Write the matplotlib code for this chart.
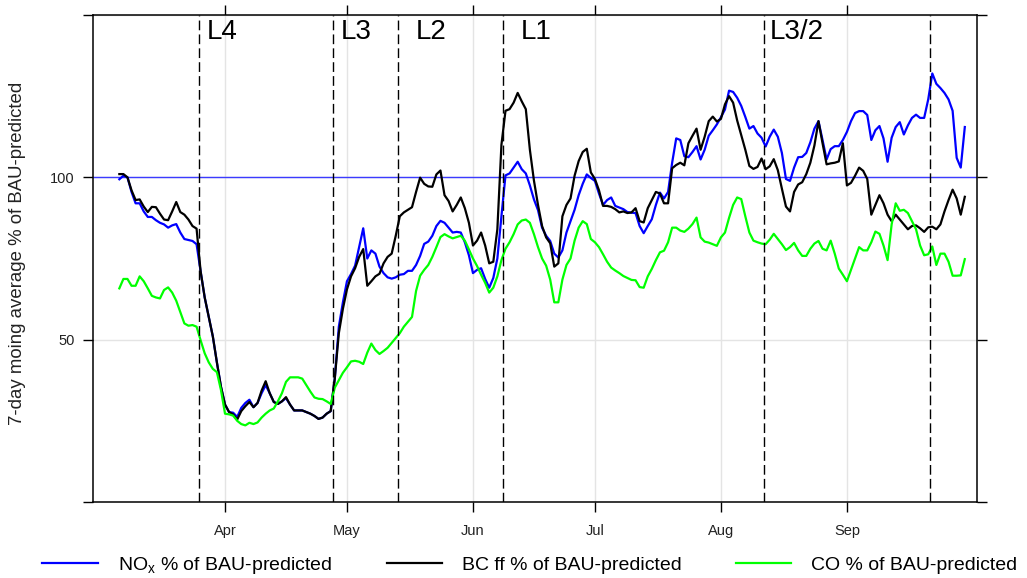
import matplotlib
matplotlib.use('Agg')
import matplotlib.pyplot as plt
import matplotlib.dates as mdates
import pandas as pd

plt.rcParams['font.family'] = ['Liberation Sans', 'DejaVu Sans']

# daily 7-day moving averages, 6 Mar - 30 Sep 2020
dates = pd.date_range('2020-03-06', '2020-09-30', freq='D')

nox = [99.4, 100.5, 100, 95.5, 92, 92, 89.5, 87.8, 87.8, 86.8,
       86, 85.5, 84.5, 85.2, 85.6, 83, 81, 80.7, 80.4, 79.4,
       71, 63, 57, 51, 43, 35.5, 30, 27.7, 27.5, 26.2,
       29, 30.5, 31.5, 29.2, 30.5, 33.5, 36, 33.5, 30.8, 30.2,
       31, 32, 30, 28.2, 28.2, 28.2, 27.7, 27.2, 26.5, 25.6,
       26, 27.2, 28, 38, 54, 61.5, 68, 70.2, 72.8, 78.5,
       84.3, 75, 77.5, 76.5, 72.5, 70.5, 69.2, 68.8, 69.2, 70,
       70.2, 71.2, 71.2, 73, 75.8, 79.5, 80.2, 82, 85, 86.6,
       86, 84.5, 83, 83.2, 83, 80, 76, 70.5, 71.5, 72,
       68.7, 66, 69, 75, 88, 100.6, 101.2, 103, 104.8, 102.5,
       101.2, 97.5, 93.2, 89.9, 84.5, 82, 80.4, 76.5, 75.3, 77.5,
       83, 86.5, 90, 94.5, 98, 100.9, 99.8, 98.9, 95, 91.5,
       93, 93.8, 91.2, 90.7, 90.2, 89.3, 89.1, 89, 85, 82.8,
       85, 87.1, 91.5, 95.3, 93.5, 95.5, 104.5, 112, 111.5, 106.5,
       106.2, 107.8, 109.6, 105.5, 108.5, 112.8, 114.5, 116.3, 118.5, 120.9,
       126.7, 126.3, 124.5, 122, 118.6, 115, 115.8, 113.5, 112.2, 109.5,
       112.5, 114.7, 112.5, 107.5, 99.5, 98.9, 103, 106.2, 106.3, 107.5,
       110.8, 115, 117.3, 111.5, 105.5, 108.7, 109.6, 109.6, 111.5, 114,
       117.3, 119.8, 120.4, 120.4, 119.2, 111.5, 114.5, 115.8, 112, 104.8,
       112.2, 115.5, 117, 113.2, 116, 118.3, 119.3, 118.3, 118.3, 124,
       132, 128.8, 127.5, 126, 124, 120.5, 106, 103, 115.5]

bc_ff = [101, 101, 100, 96, 93, 93.2, 91, 89.3, 90.9, 90.8,
         88.8, 87, 86.8, 89.5, 92.4, 89.3, 88.5, 87, 85, 84.2,
         71, 63, 57, 51, 43, 35.5, 30, 27.7, 27, 25.4,
         28, 29.5, 30.8, 29.2, 30.5, 34.3, 37.2, 33.5, 30.8, 30.2,
         31, 32.3, 30, 28.2, 28.2, 28.2, 27.7, 27.2, 26.5, 25.6,
         26, 27.2, 28, 38, 52, 59.5, 65.5, 69.5, 72, 75.5,
         77.9, 66.6, 68, 69.5, 70.3, 73.5, 75.5, 76.5, 82, 88,
         89.2, 90, 90.8, 95.5, 99.9, 98, 97.2, 97.1, 100.9, 102.1,
         94.5, 92.7, 89.5, 91.5, 93.8, 90.5, 86, 79, 80.5, 83,
         79, 73.5, 74, 84, 110, 120.5, 121, 123, 126, 123.4,
         121, 108.5, 99, 91.5, 85, 81.5, 79.7, 72.5, 73.5, 88,
         91.5, 93.5, 100.5, 105, 107.8, 108.8, 101.5, 99.5, 96, 91.2,
         91.2, 90.9, 90.2, 89.2, 89.5, 89, 89.2, 90.5, 86.5, 86.1,
         90.5, 93, 95.5, 95, 92, 92, 102.8, 103.8, 104.5, 103.7,
         110.5, 112.8, 115, 108.5, 112.5, 117.3, 118.7, 117.2, 118, 122.5,
         125, 123, 117.5, 113, 108.5, 103.5, 102.6, 103.2, 105.8, 102.5,
         103.4, 105.6, 102.2, 96.5, 91, 89.5, 95.5, 97.8, 98.5, 101,
         104.5, 109.8, 117.3, 110.5, 104, 104.3, 104.5, 104.9, 110.5, 97.5,
         98.3, 100.5, 103, 102, 99.5, 88.5, 91.5, 94.5, 92, 88.5,
         86.5, 88.5, 87, 85.5, 84, 85, 85.2, 84.3, 83.2, 84.6,
         84.8, 84, 85.5, 89.5, 93, 96.2, 93.5, 88.5, 94]

co = [65.8, 68.7, 68.7, 66.6, 66.6, 69.5, 68, 65.8, 63.5, 63,
      62.7, 65.3, 66.1, 64.5, 62, 58.5, 55, 54.3, 54.5, 54,
      49.8, 45.8, 43, 41, 40, 34.5, 27.2, 27, 26.6, 25,
      24, 23.6, 24.4, 24, 24.5, 26, 27.2, 28.2, 28.8, 31,
      33.5, 37, 38.4, 38.4, 38.4, 38, 36, 34, 32.2, 31.8,
      31.7, 31, 30.2, 35.2, 37.5, 39.8, 41.5, 43.3, 43.5, 43.2,
      42.5, 46, 48.8, 46.8, 45.6, 46.5, 47.5, 49, 50.5, 52,
      54, 55.5, 57, 65, 69.7, 71.5, 73, 75.5, 78.5, 81.6,
      82.5, 81.8, 81.2, 81.6, 82, 80.5, 77.8, 75, 72.7, 70,
      67.5, 64.5, 66, 69.5, 74.5, 78, 80, 82.5, 85.5, 86.7,
      87, 86, 82.5, 78.5, 75, 72.8, 68.5, 61.5, 61.5, 68.5,
      73, 75, 80.5, 84.5, 86.5, 85.6, 81, 80, 78.5, 76.3,
      74, 72.2, 71.3, 70.5, 69.6, 69, 68.4, 68.3, 66.2, 66,
      69.5, 71.8, 74.5, 76.9, 77.4, 80, 84.5, 84.5, 83.6, 83.2,
      84.2, 85.6, 87.6, 81.5, 80.2, 79.9, 79.4, 78.9, 81.5, 83,
      87.5, 91.5, 93.8, 93.3, 88, 83, 80.5, 80, 79.6, 79.4,
      80.8, 82.6, 81, 79.4, 77.6, 78.5, 79.8, 77.5, 75.8, 75.8,
      78, 79.6, 80.4, 78, 77.5, 80.5, 76.5, 71.9, 70, 68,
      71.5, 75, 78.5, 77.5, 77.5, 80, 83.3, 82.6, 79, 74.5,
      85.5, 92, 89.7, 90, 89, 86.5, 84, 79, 76, 76.3,
      78.7, 73, 76.5, 76.5, 74, 69.7, 69.7, 69.8, 74.8]

# alert level changes
level_dates = pd.to_datetime(['2020-03-25 12:00', '2020-04-27 12:00', '2020-05-13 12:00',
                              '2020-06-08 12:00', '2020-08-11 12:00', '2020-09-21 12:00'])
level_names = ['L4', 'L3', 'L2', 'L1', 'L3/2', '']
label_shift_days = [1.9, 1.9, 4.5, 4.3, 1.4, 0]

fig = plt.figure(figsize=(10.27, 5.78), dpi=100)
ax = fig.add_axes([93 / 1027, 76 / 578, 884 / 1027, 487 / 578])

ax.grid(True, color='#e4e4e4', linewidth=1, zorder=0)
ax.axhline(100, color='#3b3bff', linewidth=1.0, zorder=2)

ax.plot(dates, nox, color='#0000ff', linewidth=1.6, zorder=3,
        label=r'NO$_\mathregular{x}$ % of BAU-predicted')
ax.plot(dates, bc_ff, color='black', linewidth=1.6, zorder=4,
        label='BC ff % of BAU-predicted')
ax.plot(dates, co, color='#00ff00', linewidth=1.6, zorder=5,
        label='CO % of BAU-predicted')

for d, name, shift in zip(level_dates, level_names, label_shift_days):
    ax.axvline(d, color='black', linewidth=1, linestyle=(0, (7, 3)), zorder=6)
    if name:
        ax.text(d + pd.Timedelta(days=shift), 144.8, name, fontsize=20,
                ha='left', va='center', color='black')

ax.set_xlim(pd.Timestamp('2020-02-28 12:30'), pd.Timestamp('2020-10-03'))
ax.set_ylim(0, 150)
ax.set_yticks([0, 50, 100, 150])
ax.set_yticklabels(['', '50', '100', ''])
ax.xaxis.set_major_locator(mdates.MonthLocator(bymonth=range(4, 10)))
ax.xaxis.set_major_formatter(mdates.DateFormatter('%b'))

ax.tick_params(axis='both', which='major', direction='out', length=7, width=1,
               top=True, right=True, labelsize=10.5, labelcolor='#222222')
ax.tick_params(axis='x', pad=9)
ax.tick_params(axis='y', pad=6)
for s in ax.spines.values():
    s.set_linewidth(1.1)
    s.set_color('black')

fig.text(18 / 1027, 1 - 253 / 578, '7-day moing average % of BAU-predicted',
         rotation=90, ha='center', va='center', fontsize=13.4, color='#222222')

fig.legend(loc='center', bbox_to_anchor=(530 / 1027, 1 - 565 / 578), ncol=3,
           frameon=False, fontsize=14, handlelength=2.83, handletextpad=1.03,
           columnspacing=2.82, borderpad=0)

fig.savefig('out.png', dpi=100)
